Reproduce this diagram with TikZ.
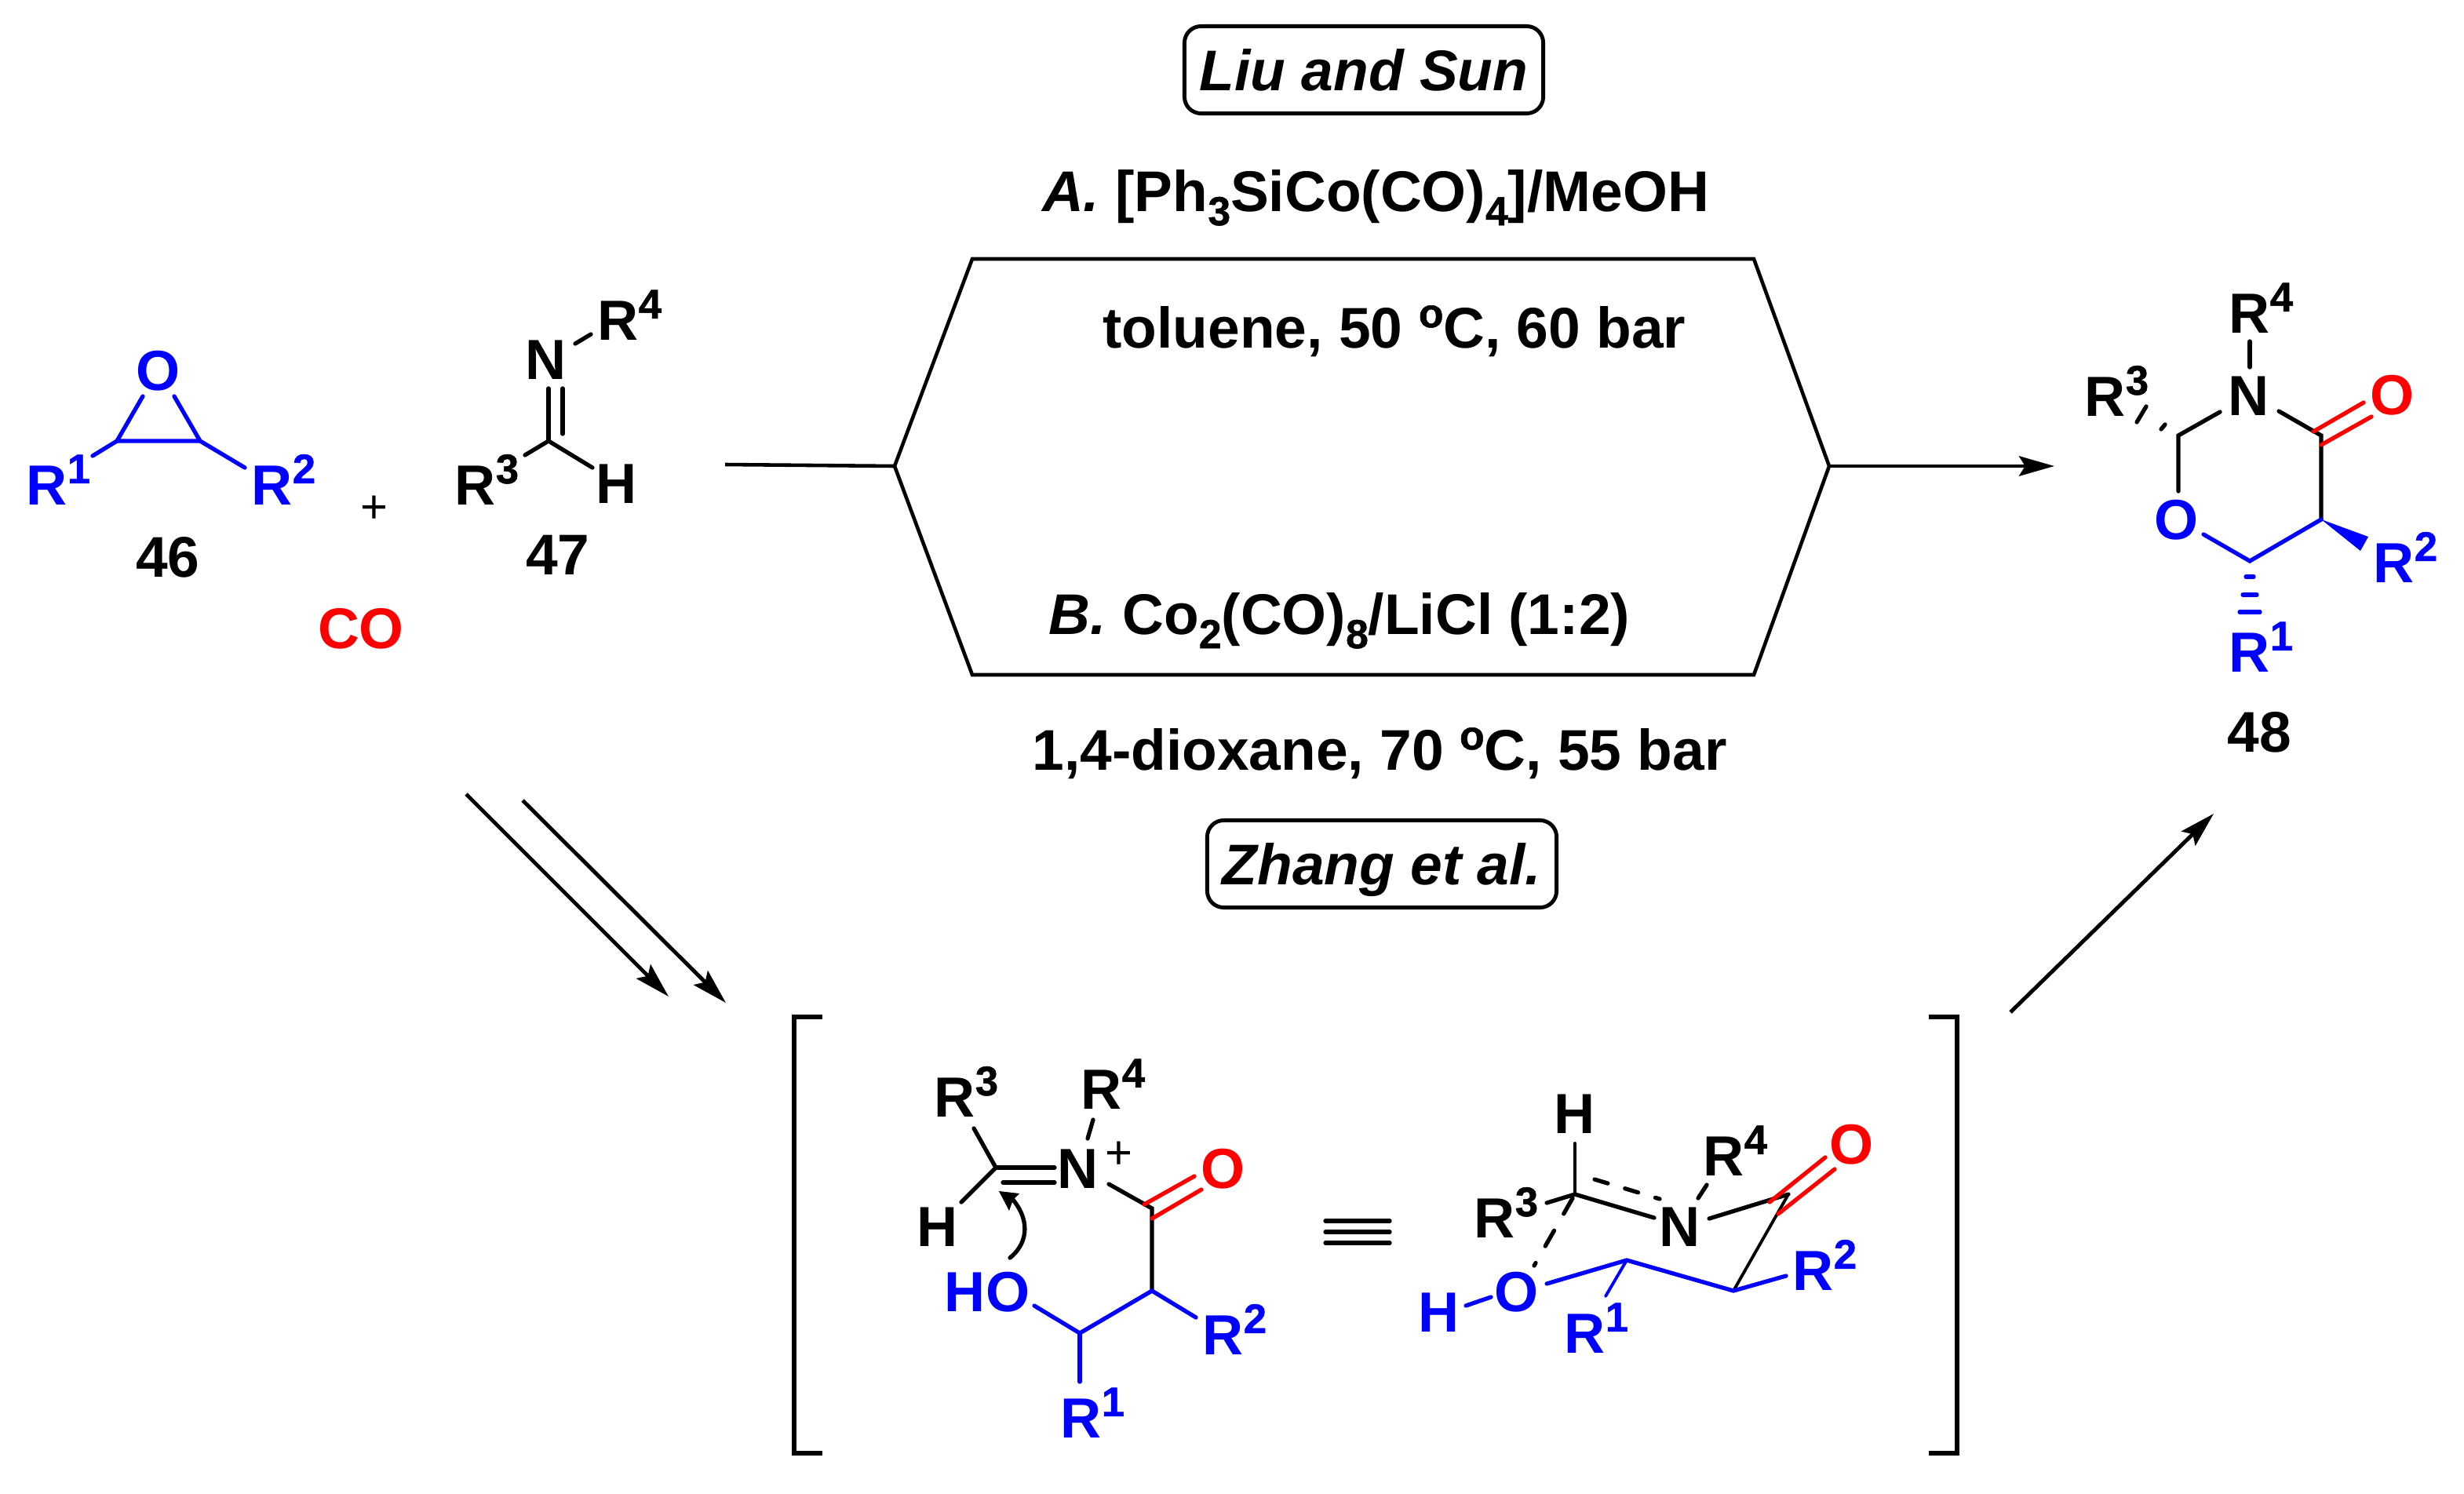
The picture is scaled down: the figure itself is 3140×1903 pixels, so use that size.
\documentclass[tikz,border=0pt]{standalone}
\usepackage{fontspec}
\setmainfont{Liberation Sans}
\newfontfamily\digitf[FakeBold=1]{Liberation Sans}
\usetikzlibrary{arrows.meta,shapes.geometric}
\definecolor{cblue}{RGB}{0,0,255}
\definecolor{cred}{RGB}{255,0,0}
\newcommand{\chemfont}{\fontsize{20.5}{24}\selectfont\bfseries}
\newcommand{\lblfont}{\fontsize{20.8}{24}\selectfont\bfseries}
\newcommand{\supR}[1]{R{\fontsize{15}{18}\selectfont\digitf\raisebox{7.7pt}{#1}}}
\newcommand{\subT}[1]{{\fontsize{14.7}{16}\selectfont\digitf\raisebox{-5pt}{#1}}}
\newcommand{\supT}[1]{{\fontsize{14.7}{16}\selectfont\digitf\raisebox{7.5pt}{#1}}}
\tikzset{
  bond/.style={line width=1.5pt,line cap=round,black},
  bblue/.style={bond,cblue},
  bred/.style={bond,cred},
  bthin/.style={line width=1.1pt,line cap=round},
  atom/.style={inner sep=0pt,font=\chemfont},
  rgroup/.style={inner sep=0pt,anchor=base west,font=\chemfont,xshift=-0.85pt},
  lbl/.style={inner sep=0pt,font=\lblfont},
  rarrow/.style={line width=1.4pt,-{Stealth[length=12.8pt,width=7.2pt,inset=2.2pt]}},
  plain/.style={line width=1.3pt},
  brk/.style={line width=1.7pt,line join=miter},
  tagbox/.style={draw,line width=1.4pt,rounded corners=6pt,inner sep=0pt,font=\lblfont\itshape,
     minimum height=31.6pt,text height=18.8pt,text depth=4pt},
}
\begin{document}
\begin{tikzpicture}[x=0.01cm,y=-0.01cm]
\useasboundingbox (0,0) rectangle (3140,1903);
% --- epoxide 46
\node[atom,cblue] (eO) at (202,473) {O};
\coordinate (eC1) at (149,562);
\coordinate (eC2) at (255,562);
\coordinate (eO1) at (182,505);
\coordinate (eO2) at (222,505);
\coordinate (eR1e) at (118,581);
\coordinate (eR2e) at (312,596);
\draw[bblue] (eO1) -- (eC1) -- (eC2) -- (eO2);
\draw[bblue] (eC1) -- (eR1e);
\draw[bblue] (eC2) -- (eR2e);
\node[rgroup,cblue] (eR1) at (36,643) {\supR{1}};
\node[rgroup,cblue] (eR2) at (323,643) {\supR{2}};
\node[lbl] (n46) at (214,710) {46};
\node[inner sep=0pt,font=\fontsize{17}{20}\selectfont] (plus) at (477,649) {+};
\node[lbl,cred] (co) at (460,801) {CO};
% --- imine 47
\node[atom] (iN) at (696,459) {N};
\coordinate (iC) at (699,562);
\coordinate (iNa) at (699,495);
\coordinate (iNb) at (717,495);
\coordinate (iCb) at (717,553);
\coordinate (iNR) at (733,438);
\coordinate (iRe) at (753,426);
\coordinate (iHe) at (755,596);
\coordinate (iR3e) at (669,580);
\draw[bond] (iNa) -- (iC);
\draw[bond] (iNb) -- (iCb);
\draw[bond] (iNR) -- (iRe);
\draw[bond] (iR3e) -- (iC) -- (iHe);
\node[rgroup] (iR4) at (764,433) {\supR{4}};
\node[atom] (iH) at (786,617) {H};
\node[rgroup] (iR3) at (582,643) {\supR{3}};
\node[lbl] (n47) at (711,707) {47};
% --- hexagon reaction arrow
\coordinate (hs) at (924,592);
\coordinate (h1) at (1140,594);
\coordinate (h2) at (1239,330);
\coordinate (h3) at (2235,330);
\coordinate (h4) at (2331,594);
\coordinate (h5) at (2235,860);
\coordinate (h6) at (1239,860);
\coordinate (he) at (2618,594);
\draw[plain,line join=miter] (h1) -- (h2) -- (h3) -- (h4) -- (h5) -- (h6) -- cycle;
\draw[plain] (hs) -- (h1);
\draw[rarrow] (h4) -- (he);
% --- conditions
\node[tagbox,minimum width=130pt] (liu) at (1738,89) {Liu and Sun};
\node[lbl] (tA) at (1753,252) {\textit{A.} [Ph\subT{3}SiCo(CO)\subT{4}]/MeOH};
\node[lbl] (tB) at (1777,422) {toluene, 50 \supT{o}C, 60 bar};
\node[lbl] (tC) at (1707,791) {\textit{B.} Co\subT{2}(CO)\subT{8}/LiCl (1:2)};
\node[lbl] (tD) at (1758,960) {1,4-dioxane, 70 \supT{o}C, 55 bar};
\node[tagbox,minimum width=126.6pt,text height=19.3pt] (zh) at (1761,1101) {Zhang et al.};
% --- product 48
\node[atom] (pN) at (2865,505) {N};
\node[rgroup] (pR4) at (2843,424) {\supR{4}};
\coordinate (pNt) at (2867,468);
\coordinate (pRb) at (2867,435);
\coordinate (pCa) at (2776,555);
\coordinate (pNl) at (2829,525);
\coordinate (pOt) at (2776,626);
\node[atom,cblue] (pO) at (2773,663) {O};
\coordinate (pOr) at (2808,681);
\coordinate (pCb) at (2867,715);
\coordinate (pCc) at (2958,662);
\coordinate (pCd) at (2958,555);
\coordinate (pNr) at (2904,524);
\draw[bond] (pNt) -- (pRb);
\draw[bond] (pNl) -- (pCa) -- (pOt);
\draw[bond] (pNr) -- (pCd) -- (pCc);
\draw[bblue] (pOr) -- (pCb) -- (pCc);
\coordinate (pd1a) at (2948,550); \coordinate (pd1b) at (3012,513);
\coordinate (pd2a) at (2958,567); \coordinate (pd2b) at (3022,531);
\draw[bred] (pd1a) -- (pd1b);
\draw[bred] (pd2a) -- (pd2b);
\node[atom,cred] (pOx) at (3048,504) {O};
\fill[cblue] (pCc) -- (3018,684) -- (3008,702) -- cycle;
\node[rgroup,cblue] (pR2) at (3027,742) {\supR{2}};
\draw[bblue] (2862,735) -- (2872,735);
\draw[bblue] (2858,758) -- (2876,758);
\draw[bblue] (2854,780) -- (2880,780);
\node[rgroup,cblue] (pR1) at (2843,856) {\supR{1}};
\node[rgroup] (pR3) at (2659,530) {\supR{3}};
\draw[bond] (2723,538) -- (2735,518);
\draw[bond] (2754,547) -- (2759,541);
\node[lbl] (n48) at (2879,933) {48};
% --- arrows to / from the intermediate
\coordinate (a1s) at (594,1012); \coordinate (a1e) at (852,1270);
\coordinate (a2s) at (666,1020); \coordinate (a2e) at (925,1278);
\coordinate (a3s) at (2562,1290); \coordinate (a3e) at (2821,1037);
\draw[rarrow] (a1s) -- (a1e);
\draw[rarrow] (a2s) -- (a2e);
\draw[rarrow] (a3s) -- (a3e);
% --- brackets
\coordinate (bl1) at (1048,1296); \coordinate (bl2) at (1012,1296);
\coordinate (bl3) at (1012,1852); \coordinate (bl4) at (1048,1852);
\coordinate (br1) at (2458,1296); \coordinate (br2) at (2494,1296);
\coordinate (br3) at (2494,1852); \coordinate (br4) at (2458,1852);
\draw[brk] (bl1) -- (bl2) -- (bl3) -- (bl4);
\draw[brk] (br1) -- (br2) -- (br3) -- (br4);
% --- iminium (left of equivalence)
\coordinate (mC) at (1269,1488);
\coordinate (mR3e) at (1241,1438);
\coordinate (mHe) at (1225,1532);
\draw[bond] (mR3e) -- (mC) -- (mHe);
\node[rgroup] (mR3) at (1193,1423) {\supR{3}};
\node[atom] (mH) at (1195,1564) {H};
\coordinate (mNa) at (1344,1488);
\coordinate (mCb) at (1278,1507);
\coordinate (mNb) at (1344,1507);
\draw[bond] (mC) -- (mNa);
\draw[bond] (mCb) -- (mNb);
\node[atom] (mN) at (1374,1490) {N};
\node[inner sep=0pt,font=\fontsize{17}{20}\selectfont] (mplus) at (1426,1472) {+};
\node[rgroup] (mR4) at (1380,1413) {\supR{4}};
\coordinate (mNt1) at (1393,1427); \coordinate (mNt2) at (1386,1451);
\draw[bond] (mNt1) -- (mNt2);
\coordinate (mNr) at (1413,1509); \coordinate (mCO) at (1468,1540);
\coordinate (mCa) at (1468,1645); \coordinate (mCb2) at (1376,1699);
\coordinate (mOb) at (1318,1664);
\coordinate (mR2e) at (1524,1679); \coordinate (mR1e) at (1376,1761);
\draw[bond] (mNr) -- (mCO) -- (mCa);
\draw[bred] (1458,1535) -- (1522,1499);
\draw[bred] (1468,1553) -- (1531,1516);
\node[atom,cred] (mOx) at (1559,1490) {O};
\draw[bblue] (mOb) -- (mCb2) -- (mCa) -- (mR2e);
\draw[bblue] (mCb2) -- (mR1e);
\node[atom,cblue] (mHO) at (1258,1647) {HO};
\node[rgroup,cblue] (mR2) at (1535,1726) {\supR{2}};
\node[rgroup,cblue] (mR1) at (1354,1832) {\supR{1}};
\draw[bond] (1287,1603) .. controls (1306,1588) and (1316,1560) .. (1291,1529);
\fill (1273,1518) -- (1299,1521) -- (1291,1529) -- (1286,1543) -- cycle;
% --- equivalence sign
\coordinate (q1a) at (1689,1556); \coordinate (q1b) at (1771,1556);
\coordinate (q2a) at (1689,1570); \coordinate (q2b) at (1771,1570);
\coordinate (q3a) at (1689,1584); \coordinate (q3b) at (1771,1584);
\draw[bond] (q1a) -- (q1b);
\draw[bond] (q2a) -- (q2b);
\draw[bond] (q3a) -- (q3b);
% --- chair (right of equivalence)
\node[atom] (cH) at (2006,1420) {H};
\coordinate (cC) at (2007,1522);
\coordinate (cHb) at (2007,1457);
\coordinate (cNl) at (2108,1552);
\coordinate (cR3b) at (1971,1533);
\draw[bthin] (cHb) -- (cC);
\draw[bond] (cR3b) -- (cC) -- (cNl);
\draw[bond,dash pattern=on 5pt off 6.5pt] (2032,1503) -- (2115,1528);
\draw[bond,dash pattern=on 6.5pt off 7pt] (2004,1527) -- (1955,1613);
\node[atom] (cN) at (2140,1564) {N};
\node[rgroup] (cR4) at (2173,1498) {\supR{4}};
\draw[bond] (2164,1527) -- (2175,1510);
\coordinate (cNr) at (2178,1553); \coordinate (cCO) at (2279,1522);
\coordinate (cCa) at (2209,1645);
\draw[bond] (cNr) -- (cCO);
\draw[bthin] (cCO) -- (cCa);
\draw[bred] (2255,1532) -- (2326,1475);
\draw[bred] (2266,1547) -- (2338,1490);
\node[atom,cred] (cOx) at (2360,1459) {O};
\node[rgroup] (cR3) at (1881,1577) {\supR{3}};
\node[atom,cblue] (cO) at (1933,1647) {O};
\coordinate (cOr) at (1971,1636); \coordinate (cCb) at (2073,1606);
\coordinate (cR2e) at (2276,1626); \coordinate (cR1e) at (2046,1652);
\draw[bblue] (cOr) -- (cCb) -- (cCa) -- (cR2e);
\draw[bblue,line width=1.1pt] (cCb) -- (cR1e);
\node[rgroup,cblue] (cR2) at (2287,1644) {\supR{2}};
\node[rgroup,cblue] (cR1) at (1996,1724) {\supR{1}};
\node[atom,cblue] (cHh) at (1834,1673) {H};
\draw[bblue] (1868,1664) -- (1900,1653);
\end{tikzpicture}
\end{document}
